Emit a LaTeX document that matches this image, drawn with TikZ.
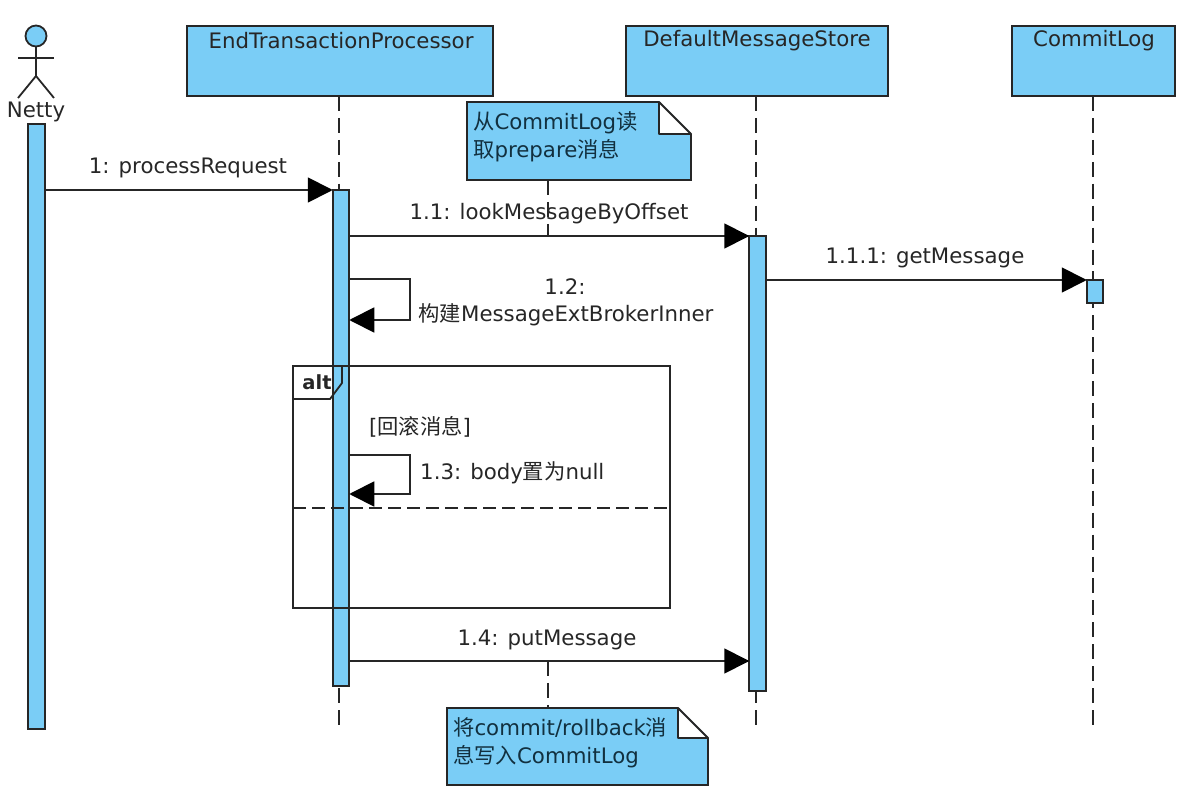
\documentclass[tikz,border=0pt]{standalone}
\usepackage{fontspec}
\setmainfont{DejaVu Sans}
\newfontfamily\cjk{Noto Sans CJK SC}
\usetikzlibrary{calc, positioning, arrows.meta}
\definecolor{seqblue}{HTML}{7ACDF6}
\definecolor{seqline}{HTML}{262626}
\definecolor{noteink}{HTML}{12303F}
\newcommand{\zh}[1]{{\cjk #1}}
% white corner and folded flap of a note
\newcommand{\notefold}[2]{
    \fill[white] ($(#1.north east)+(-#2,-1)$) -- ($(#1.north east)+(1,-1)$) -- ($(#1.north east)+(1,#2)$) -- cycle;
    \draw[seqline, line width=1.8pt, line join=round, fill=white] ($(#1.north east)+(-#2,0)$) -- ($(#1.north east)+(0,#2)$) -- ($(#1.north east)+(-#2,#2)$) -- cycle;
}
\tikzset{
    headbox/.style={draw=seqline, fill=seqblue, line width=1.8pt, minimum height=70pt, inner sep=0pt, outer sep=0pt},
    bar/.style={draw=seqline, fill=seqblue, line width=1.8pt, minimum width=16.5pt, inner sep=0pt, outer sep=0pt},
    notebox/.style={draw=seqline, fill=seqblue, line width=1.8pt, inner sep=0pt, outer sep=0pt},
    lifeline/.style={seqline, line width=1.8pt, dash pattern=on 15pt off 6.93pt},
    msg/.style={seqline, line width=1.8pt, -{Triangle[length=25pt, width=25pt, color=black]}},
    plain/.style={seqline, line width=1.8pt, line join=round},
    label/.style={text=seqline, inner sep=0pt, font=\fontsize{21.3}{28}\selectfont},
    notetext/.style={text=noteink, inner sep=0pt, align=left, font=\fontsize{21.3}{28}\selectfont}
}
\begin{document}
\begin{tikzpicture}[x=1pt, y=-1pt]
    \useasboundingbox (0,0) rectangle (1200,799);
    % heads
    \node[headbox, minimum width=306pt] (endhead) at (340,61) {};
    \node[headbox, minimum width=262pt] (storehead) at (757,61) {};
    \node[headbox, minimum width=163pt] (loghead) at (1093.5,61) {};
    \node[label] (endname) at (341,40.5) {EndTransactionProcessor};
    \node[label] (storename) at (757,40.5) {DefaultMessageStore};
    \node[label] (logname) at (1094,40.5) {CommitLog};
    % actor
    \node[circle, draw=seqline, fill=seqblue, line width=1.8pt, minimum size=21pt, inner sep=0pt, outer sep=0pt] (nettyhead) at (36,36) {};
    \coordinate (nettyhip) at (36,76);
    \draw[plain] (nettyhead.south) -- (nettyhip);
    \draw[plain] (18,58) -- (54,58);
    \draw[plain] (18,98) -- (nettyhip) -- (54,98);
    \node[label] (nettyname) at (36,112) {Netty};
    % lifelines
    \coordinate (endfoot) at (339,726);
    \coordinate (storefoot) at (756,726);
    \coordinate (logfoot) at (1093,726);
    \draw[lifeline] (endhead.south -| endfoot) -- (endfoot);
    \draw[lifeline] (storehead.south -| storefoot) -- (storefoot);
    \draw[lifeline] (loghead.south -| logfoot) -- (logfoot);
    % activation bars
    \node[bar, minimum height=605pt] (nettybar) at (36.5,426.5) {};
    \node[bar, minimum height=496pt] (endbar) at (341,438) {};
    \node[bar, minimum height=455pt] (storebar) at (757.5,463.5) {};
    \node[bar, minimum height=23pt] (logbar) at (1095,291.5) {};
    % notes
    \coordinate (noteatop) at (548,236);
    \coordinate (notebtop) at (548,661);
    \node[notebox, minimum width=224pt, minimum height=78pt] (notea) at (579,141) {};
    \node[notebox, minimum width=261pt, minimum height=77pt] (noteb) at (577.5,746.5) {};
    \draw[lifeline] (notea.south -| noteatop) -- (noteatop);
    \draw[lifeline] (notebtop) -- (noteb.north -| notebtop);
    \notefold{notea}{32}
    \notefold{noteb}{30}
    \node[notetext, anchor=north west] (noteatext) at ($(notea.north west)+(6,9)$) {\zh{从}CommitLog\zh{读}\\\zh{取}prepare\zh{消息}};
    \node[notetext, anchor=north west] (notebtext) at ($(noteb.north west)+(6,9)$) {\zh{将}commit/rollback\zh{消}\\\zh{息写入}CommitLog};
    % messages
    \draw[msg] (nettybar.east |- endbar.north) -- (endbar.north west);
    \draw[msg] (endbar.east |- storebar.north) -- (storebar.north west);
    \draw[msg] (storebar.east |- logbar.north) -- (logbar.north west);
    \draw[msg] (endbar.east |- 0,279) -- (410,279) -- (410,320) -- (endbar.east |- 0,320);
    \draw[msg] (endbar.east |- 0,455) -- (410,455) -- (410,494) -- (endbar.east |- 0,494);
    \draw[msg] (endbar.east |- 0,661) -- (storebar.west |- 0,661);
    \node[label] (msgone) at (188,168) {1: processRequest};
    \node[label] (msgtwo) at (549,214) {1.1: lookMessageByOffset};
    \node[label] (msgthree) at (925,258) {1.1.1: getMessage};
    \node[label] (msgfour) at (565,287) {1.2:};
    \node[label] (msgfourb) at (566,315) {\zh{构建}MessageExtBrokerInner};
    \node[label] (guard) at (420,427) {[\zh{回滚消息}]};
    \node[label, anchor=west] (msgfive) at (420,473) {1.3: body\zh{置为}null};
    \node[label] (msgsix) at (547,640) {1.4: putMessage};
    % alt frame
    \node[draw=seqline, line width=1.8pt, minimum width=377pt, minimum height=242pt, inner sep=0pt, outer sep=0pt] (altframe) at (481.5,487) {};
    \draw[plain] (altframe.north -| 342,0) -- (342,383) -- (330,399) -- (altframe.west |- 0,399);
    \draw[seqline, line width=1.8pt, dash pattern=on 13pt off 6pt] (altframe.west |- 0,508) -- (altframe.east |- 0,508);
    \node[label, font=\fontsize{19.5}{24}\bfseries\selectfont] (altname) at (317,382) {alt};
\end{tikzpicture}
\end{document}
